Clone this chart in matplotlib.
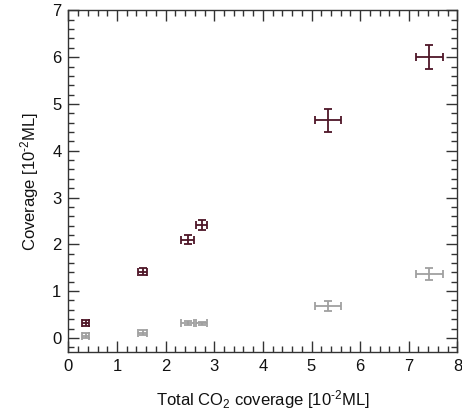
import matplotlib
matplotlib.use("Agg")
import matplotlib.pyplot as plt
from matplotlib.ticker import MultipleLocator

plt.rcParams['font.family'] = ['Liberation Sans', 'DejaVu Sans']
plt.rcParams['mathtext.fontset'] = 'custom'
plt.rcParams['mathtext.rm'] = 'Liberation Sans'
plt.rcParams['mathtext.it'] = 'Liberation Sans'

# data
total_co2 = [0.36, 1.53, 2.45, 2.74, 5.34, 7.42]
total_co2_err = [0.07, 0.09, 0.13, 0.11, 0.26, 0.28]

dark_cov = [0.32, 1.41, 2.10, 2.41, 4.65, 6.01]
dark_err = [0.06, 0.075, 0.10, 0.10, 0.24, 0.26]

gray_cov = [0.05, 0.11, 0.32, 0.31, 0.68, 1.37]
gray_err = [0.05, 0.05, 0.04, 0.04, 0.11, 0.13]

dark_color = '#4e1628'
gray_color = '#a0a0a0'
axis_color = '#333333'

fig = plt.figure(figsize=(4.62, 4.17), dpi=100)
ax = fig.add_axes([0.148, 0.156, 0.842, 0.819])

ax.errorbar(total_co2, gray_cov, xerr=total_co2_err, yerr=gray_err, fmt='none',
            ecolor=gray_color, elinewidth=1.3, capsize=3, capthick=1.3)
ax.errorbar(total_co2, dark_cov, xerr=total_co2_err, yerr=dark_err, fmt='none',
            ecolor=dark_color, elinewidth=1.3, capsize=3, capthick=1.3)

ax.set_xlim(0, 8)
ax.set_ylim(-0.3, 7)
ax.xaxis.set_major_locator(MultipleLocator(1))
ax.xaxis.set_minor_locator(MultipleLocator(0.2))
ax.yaxis.set_major_locator(MultipleLocator(1))
ax.yaxis.set_minor_locator(MultipleLocator(0.2))

ax.tick_params(which='both', direction='in', top=True, right=True,
               color=axis_color, labelsize=12, labelcolor='#111111')
ax.tick_params(which='major', length=8, width=1.0, pad=5)
ax.tick_params(which='minor', length=4, width=1.0)
for s in ax.spines.values():
    s.set_color(axis_color)
    s.set_linewidth(1.0)

ax.set_xlabel(r'Total CO$_2$ coverage [10$^{\text{-}2}$ML]', fontsize=12, color='#111111', labelpad=10)
ax.set_ylabel(r'Coverage [10$^{\text{-}2}$ML]', fontsize=12, color='#111111', labelpad=8)

fig.savefig('out.png', dpi=100)
